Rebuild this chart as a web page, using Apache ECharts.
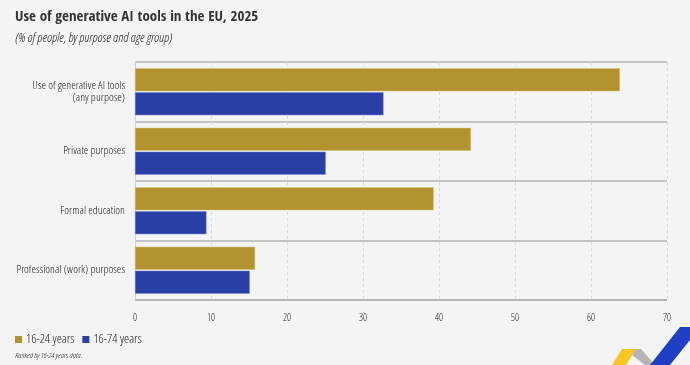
<!DOCTYPE html>
<html><head><meta charset="utf-8">
<script src="https://cdn.jsdelivr.net/npm/echarts@6/dist/echarts.min.js"></script>
<style>html,body{margin:0;padding:0;background:#f4f4f4}#c{width:690px;height:365px}</style>
</head><body><div id="c"></div>
<script>
const categories = ['Use of generative AI tools\n(any purpose)', 'Private purposes', 'Formal education', 'Professional (work) purposes'];
const youth = [63.8, 44.2, 39.3, 15.8];
const all = [32.7, 25.1, 9.4, 15.1];
const seriesNames = ['16-24 years', '16-74 years'];
const xTicks = [0, 10, 20, 30, 40, 50, 60, 70];

const FL = '"Open Sans Condensed Light", "Open Sans Condensed", sans-serif';
const FB = '"Open Sans Condensed", sans-serif';
const chart = echarts.init(document.getElementById('c'));
chart.setOption({
  backgroundColor: '#f4f4f4',
  animation: false,
  title: [
    {text: 'Use of generative AI tools in the EU, 2025', left: 15, top: 10, padding: 0,
     textStyle: {fontFamily: FB, fontSize: 15, fontWeight: 'bold', color: '#333'}},
    {text: '(% of people, by purpose and age group)', left: 15, top: 32, padding: 0,
     textStyle: {fontFamily: FL, fontSize: 13, fontStyle: 'italic', fontWeight: 'normal', color: '#222'}},
    {text: 'Ranked by 16-24 years data.', left: 15, top: 352, padding: 0,
     textStyle: {fontFamily: FL, fontSize: 8, fontStyle: 'italic', fontWeight: 'normal', color: '#222'}}
  ],
  legend: {left: 15, top: 333, padding: 0, itemWidth: 7, itemHeight: 7, itemGap: 8, icon: 'rect',
    itemStyle: {borderWidth: 0},
    textStyle: {fontFamily: FL, fontSize: 13, color: '#222', padding: [0, 0, 0, -1]}, data: seriesNames},
  grid: {left: 135, right: 23, top: 62, bottom: 65, containLabel: false, outerBoundsMode: 'none'},
  xAxis: {type: 'value', min: 0, max: 70, interval: 10,
    axisLine: {show: false}, axisTick: {show: false},
    axisLabel: {fontFamily: FL, fontSize: 10, color: '#222', margin: 13,
      formatter: v => xTicks.includes(v) ? String(v) : ''},
    splitLine: {show: true, lineStyle: {color: '#d8d8d8', type: [3, 3], width: 1}}
  },
  yAxis: {type: 'category', data: categories, inverse: true,
    axisLine: {show: true, lineStyle: {color: '#d0d0d0', width: 1}},
    axisTick: {show: false},
    axisLabel: {fontFamily: FL, fontSize: 11.5, color: '#222', margin: 10, lineHeight: 12},
    splitLine: {show: true, lineStyle: {color: '#b4b4b4', width: 1.5}}
  },
  series: [
    {name: seriesNames[0], type: 'bar', data: youth, barWidth: 23, barGap: '4%',
     itemStyle: {color: '#b29330', borderColor: '#d9c47a', borderWidth: 0.5}},
    {name: seriesNames[1], type: 'bar', data: all, barWidth: 23,
     itemStyle: {color: '#2a3fa5', borderColor: '#7b8bd6', borderWidth: 0.5}}
  ],
  graphic: [
    {type: 'line', shape: {x1: 135, y1: 300, x2: 667, y2: 300}, style: {stroke: '#8a8a8a', lineWidth: 1}},
    {type: 'polygon', shape: {points: [[612, 365], [622, 349], [636, 349], [626, 365]]}, style: {fill: '#f6c624'}},
    {type: 'polygon', shape: {points: [[636, 349], [641, 349], [655, 365], [645, 365], [632, 355]]}, style: {fill: '#b5b5b5'}},
    {type: 'polygon', shape: {points: [[650, 365], [680, 327], [690, 327], [690, 340], [670, 365]]}, style: {fill: '#1f3fc4'}}
  ]
});
</script></body></html>
